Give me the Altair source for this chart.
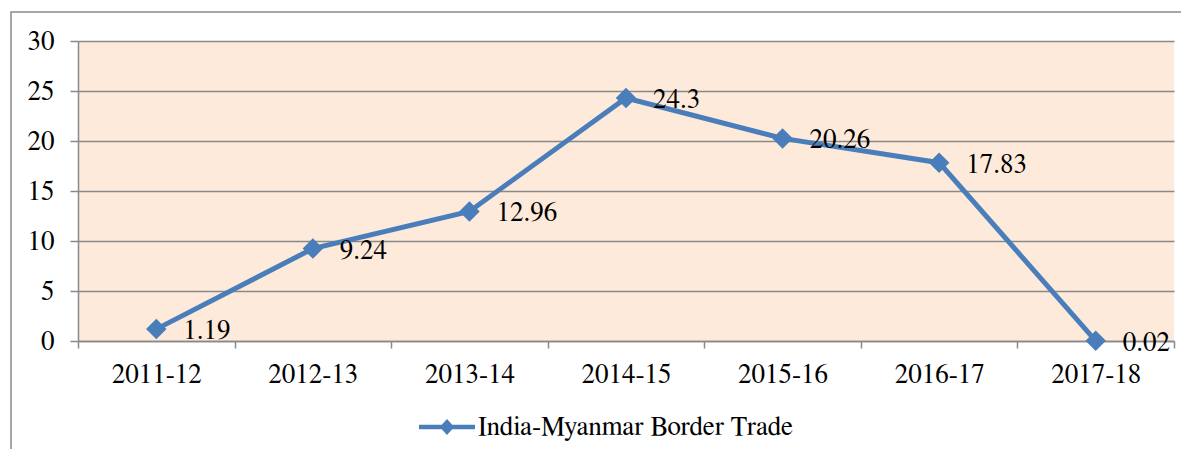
import altair as alt
import pandas as pd

years = ["2011-12", "2012-13", "2013-14", "2014-15", "2015-16", "2016-17", "2017-18"]
values = [1.19, 9.24, 12.96, 24.3, 20.26, 17.83, 0.02]
labels = ["1.19", "9.24", "12.96", "24.3", "20.26", "17.83", "0.02"]
series = "India-Myanmar Border Trade"
y_ticks = [0, 5, 10, 15, 20, 25, 30]

df = pd.DataFrame({"year": years, "value": values, "label": labels, "series": [series] * len(years)})

BLUE = "#4A7EBB"
FONT = "FreeSerif"
FS = 27
GRID = "#898989"

x_enc = alt.X("year:N", sort=years, title=None,
              scale=alt.Scale(paddingInner=0, paddingOuter=0),
              axis=alt.Axis(labelAngle=0, tickBand="extent", tickSize=7, tickColor=GRID,
                            tickWidth=1.5, domainColor=GRID, domainWidth=1.5,
                            labelFont=FONT, labelFontSize=FS, labelColor="black",
                            labelPadding=13, grid=False))
y_enc = alt.Y("value:Q", title=None,
              scale=alt.Scale(domain=[0, 30], nice=False),
              axis=alt.Axis(values=y_ticks, tickSize=8, tickColor=GRID, tickWidth=1.5,
                            domainColor=GRID, domainWidth=1.5, gridColor=GRID, gridWidth=1.5,
                            labelFont=FONT, labelFontSize=FS, labelColor="black",
                            labelPadding=16))

base = alt.Chart(df)

frame = alt.Chart(pd.DataFrame({"a": [0]})).mark_rect(
    fill="white", fillOpacity=0, stroke="#8a8a8a", strokeWidth=1.5, clip=False
).encode(x=alt.value(-67), y=alt.value(-29), x2=alt.value(1130), y2=alt.value(430))

line = base.mark_line(color=BLUE, strokeWidth=5).encode(x=x_enc, y=y_enc)

legend_path = ("M-1,-0.08L1,-0.08L1,0.08L-1,0.08Z "
               "M-0.26,0L0,-0.29L0.26,0L0,0.29Z")

points = base.mark_point(shape="diamond", filled=True, size=420, opacity=1).encode(
    x=x_enc, y=y_enc,
    color=alt.Color("series:N", scale=alt.Scale(range=[BLUE]),
                    legend=alt.Legend(title=None, orient="none", legendX=341, legendY=358,
                                      symbolType=legend_path, symbolSize=3136,
                                      symbolStrokeWidth=0, labelFont=FONT,
                                      labelFontSize=FS, labelColor="black",
                                      labelOffset=3, padding=0, labelLimit=600)))

text = base.mark_text(align="left", baseline="middle", dx=27, dy=2,
                      font=FONT, fontSize=FS, color="black").encode(
    x=x_enc, y=y_enc, text="label:N")

chart = alt.layer(frame, line, points, text).properties(
    width=1096, height=300,
    background="white",
    padding={"left": 70, "top": 33, "right": 7, "bottom": 108},
    autosize=alt.AutoSizeParams(type="none"),
).configure_view(fill="#FDEADA", stroke=None)

chart.save("out.html", embed_options={"renderer": "svg", "actions": False})
